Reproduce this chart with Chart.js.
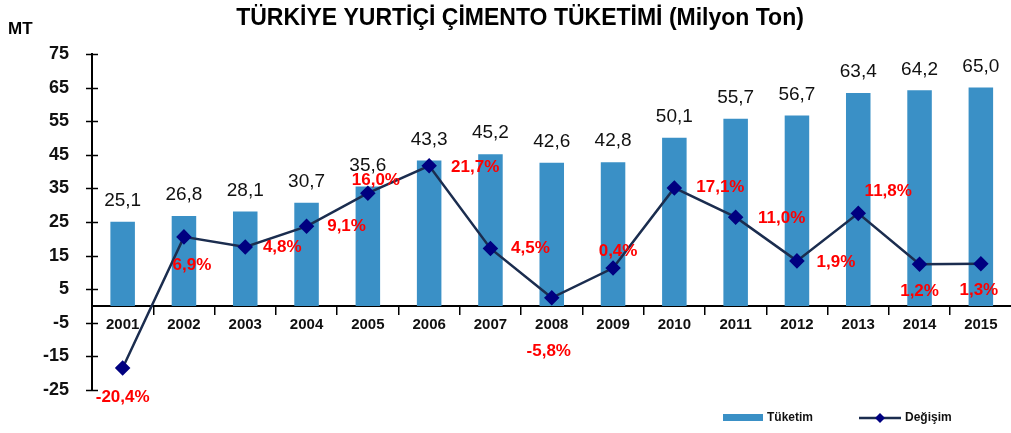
<!DOCTYPE html>
<html>
<head>
<meta charset="utf-8">
<script src="https://cdn.jsdelivr.net/npm/chart.js@4"></script>
<style>
  html, body { margin: 0; padding: 0; overflow: hidden; background: #fff; }
  #wrap { width: 1020px; height: 433px; }
</style>
</head>
<body>
<div id="wrap"><canvas id="cement" width="1020" height="433"></canvas></div>
<script>
const years = ['2001', '2002', '2003', '2004', '2005', '2006', '2007', '2008',
  '2009', '2010', '2011', '2012', '2013', '2014', '2015'];
const consumption = [25.1, 26.8, 28.1, 30.7, 35.6, 43.3, 45.2, 42.6, 42.8, 50.1, 55.7, 56.7, 63.4, 64.2, 65.0];
const change = [-20.4, 6.9, 4.8, 9.1, 16.0, 21.7, 4.5, -5.8, 0.4, 17.1, 11.0, 1.9, 11.8, 1.2, 1.3];
const yTicks = [-25, -15, -5, 5, 15, 25, 35, 45, 55, 65, 75];

// where each % label sits relative to its point (dx, dy in px)
const pctOffsets = [[0, 29], [8, 28], [37, 0], [40, 0], [8, -13], [46, 1], [40, 0], [-3, 53],
  [5, -17], [46, -1], [46, 1], [39, 1], [30, -22], [0, 27], [-2, 27]];

const BAR = '#3a90c6';
const LINE = '#1b2d4f';
const MARK = '#000080';
const FONT = '"Liberation Sans", Arial, sans-serif';

const fmt = v => v.toFixed(1).replace('.', ',');

const decor = {
  id: 'decor',
  beforeDraw(chart) {
    const ctx = chart.ctx;
    ctx.save();
    ctx.fillStyle = '#fff';
    ctx.fillRect(0, 0, chart.width, chart.height);
    ctx.restore();
  },
  afterDraw(chart) {
    const ctx = chart.ctx;
    const y = chart.scales.y;
    ctx.save();

    // title + unit
    ctx.fillStyle = '#000';
    ctx.textBaseline = 'middle';
    ctx.textAlign = 'center';
    ctx.font = 'bold 23px ' + FONT;
    ctx.fillText('TÜRKİYE YURTİÇİ ÇİMENTO TÜKETİMİ (Milyon Ton)', 520, 19);
    ctx.textAlign = 'left';
    ctx.font = 'bold 17px ' + FONT;
    ctx.fillText('MT', 8, 29);

    // y tick marks crossing the axis
    ctx.strokeStyle = '#000';
    ctx.lineWidth = 1.5;
    const ax = chart.chartArea.left;
    yTicks.forEach(t => {
      const py = Math.round(y.getPixelForValue(t)) + 0.5;
      ctx.beginPath();
      ctx.moveTo(ax - 6, py);
      ctx.lineTo(ax + 6, py);
      ctx.stroke();
    });

    // bar values
    ctx.fillStyle = '#111';
    ctx.font = '19px ' + FONT;
    ctx.textAlign = 'center';
    chart.getDatasetMeta(0).data.forEach((b, i) => {
      ctx.fillText(fmt(consumption[i]), b.x, b.y - 21);
    });

    // % labels
    ctx.fillStyle = '#ff0000';
    ctx.font = 'bold 17px ' + FONT;
    chart.getDatasetMeta(1).data.forEach((p, i) => {
      ctx.fillText(fmt(change[i]) + '%', p.x + pctOffsets[i][0], p.y + pctOffsets[i][1]);
    });

    // legend
    ctx.fillStyle = BAR;
    ctx.fillRect(723, 414, 40, 7);
    ctx.fillStyle = '#111';
    ctx.textAlign = 'left';
    ctx.font = 'bold 12px ' + FONT;
    ctx.fillText('Tüketim', 767, 418);
    ctx.strokeStyle = LINE;
    ctx.lineWidth = 2.5;
    ctx.beginPath();
    ctx.moveTo(859, 418);
    ctx.lineTo(901, 418);
    ctx.stroke();
    ctx.fillStyle = MARK;
    ctx.beginPath();
    ctx.moveTo(880, 413);
    ctx.lineTo(885, 418);
    ctx.lineTo(880, 423);
    ctx.lineTo(875, 418);
    ctx.closePath();
    ctx.fill();
    ctx.fillStyle = '#111';
    ctx.fillText('Değişim', 905, 418);

    ctx.restore();
  }
};

new Chart(document.getElementById('cement'), {
  type: 'bar',
  data: {
    labels: years,
    datasets: [
      {
        type: 'bar',
        label: 'Tüketim',
        data: consumption,
        backgroundColor: BAR,
        barPercentage: 0.4,
        categoryPercentage: 1.0,
        yAxisID: 'y',
        order: 1
      },
      {
        type: 'line',
        label: 'Değişim',
        data: change,
        borderColor: LINE,
        borderWidth: 2.5,
        pointStyle: 'rectRot',
        pointRadius: 6,
        pointBackgroundColor: MARK,
        pointBorderColor: MARK,
        tension: 0,
        yAxisID: 'y2',
        order: 0
      }
    ]
  },
  options: {
    responsive: false,
    animation: false,
    layout: { padding: { top: 54, bottom: 43, left: 0, right: 0 } },
    plugins: { legend: { display: false }, tooltip: { enabled: false } },
    scales: {
      x: {
        position: { y: 0 },
        grid: { drawOnChartArea: false, tickLength: 8, color: '#000', lineWidth: 1.5 },
        border: { display: true, color: '#000', width: 2 },
        ticks: { color: '#111', font: { family: FONT, size: 15, weight: 'bold' }, padding: 2, maxRotation: 0 }
      },
      y: {
        min: -25,
        max: 75,
        afterBuildTicks: s => { s.ticks = yTicks.map(v => ({ value: v })); },
        afterFit: s => { s.width = 92; },
        grid: { display: false },
        border: { display: true, color: '#000', width: 2 },
        ticks: { color: '#111', font: { family: FONT, size: 18, weight: 'bold' }, padding: 15 }
      },
      y2: {
        display: false,
        min: -25,
        max: 45
      }
    }
  },
  plugins: [decor]
});
</script>
</body>
</html>
